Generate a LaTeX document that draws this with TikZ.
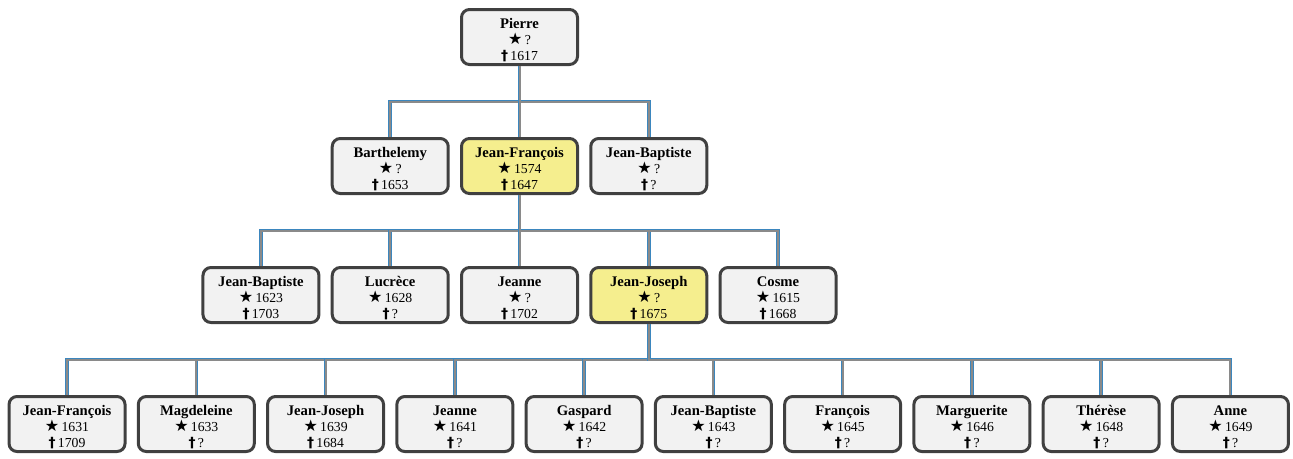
\documentclass[tikz,border=0pt]{standalone}
\usepackage{fontspec}
\setmainfont{Liberation Serif}
\newfontfamily\symfont{DejaVu Sans}
\usetikzlibrary{positioning}

\definecolor{boxborder}{HTML}{404040}
\definecolor{boxfill}{HTML}{F2F2F2}
\definecolor{hlfill}{HTML}{F5EE8E}
\definecolor{linkblue}{HTML}{3B86BE}
\definecolor{linkgray}{HTML}{8A8A8A}

\newcommand{\born}{{\symfont\bfseries\fontsize{12}{12}\selectfont ★}\,}
\newcommand{\died}{{\symfont\bfseries\fontsize{10.5}{12}\selectfont †}\,}
\newcommand{\pname}[1]{{\fontsize{11}{12}\selectfont\bfseries\rule{0pt}{12pt}#1}}

\begin{document}
\begin{tikzpicture}[
        x=0.75pt, y=0.75pt,
        node distance=53.25pt and 7.7pt,
        person/.style={rectangle, draw=boxborder, fill=boxfill, line width=2.25pt, rounded corners=6pt, minimum width=87pt, minimum height=41.25pt, align=center, inner sep=2pt, font=\fontsize{10.3}{12}\selectfont},
        focus/.style={person, fill=hlfill},
        link/.style={draw=linkblue, double=linkgray, line width=0.6pt, double distance=1.5pt}
    ]

    \useasboundingbox (0,0) rectangle (1293,-458);

    % Root
    \node[person] (pierre) at (519.5,-37) {\pname{Pierre}\\\born ?\\\died 1617};

    % Children of Pierre
    \node[focus, below=of pierre] (jf1) {\pname{Jean-François}\\\born 1574\\\died 1647};
    \node[person, left=of jf1] (barth) {\pname{Barthelemy}\\\born ?\\\died 1653};
    \node[person, right=of jf1] (jb1) {\pname{Jean-Baptiste}\\\born ?\\\died ?};

    % Children of Jean-François
    \node[person, below=of jf1] (jeanne1) {\pname{Jeanne}\\\born ?\\\died 1702};
    \node[person, left=of jeanne1] (lucrece) {\pname{Lucrèce}\\\born 1628\\\died ?};
    \node[person, left=of lucrece] (jb2) {\pname{Jean-Baptiste}\\\born 1623\\\died 1703};
    \node[focus, right=of jeanne1] (jj1) {\pname{Jean-Joseph}\\\born ?\\\died 1675};
    \node[person, right=of jj1] (cosme) {\pname{Cosme}\\\born 1615\\\died 1668};

    % Children of Jean-Joseph
    \node[person, below=of jj1, xshift=-48.5pt] (gaspard) {\pname{Gaspard}\\\born 1642\\\died ?};
    \node[person, left=of gaspard] (jeanne2) {\pname{Jeanne}\\\born 1641\\\died ?};
    \node[person, left=of jeanne2] (jj2) {\pname{Jean-Joseph}\\\born 1639\\\died 1684};
    \node[person, left=of jj2] (magd) {\pname{Magdeleine}\\\born 1633\\\died ?};
    \node[person, left=of magd] (jf2) {\pname{Jean-François}\\\born 1631\\\died 1709};
    \node[person, right=of gaspard] (jb3) {\pname{Jean-Baptiste}\\\born 1643\\\died ?};
    \node[person, right=of jb3] (francois) {\pname{François}\\\born 1645\\\died ?};
    \node[person, right=of francois] (marg) {\pname{Marguerite}\\\born 1646\\\died ?};
    \node[person, right=of marg] (therese) {\pname{Thérèse}\\\born 1648\\\died ?};
    \node[person, right=of therese] (anne) {\pname{Anne}\\\born 1649\\\died ?};

    % Pierre -> children
    \draw[link] (pierre.south) -- ++(0,-35.5) -| (barth.north);
    \draw[link] (pierre.south) -- ++(0,-35.5) -| (jf1.north);
    \draw[link] (pierre.south) -- ++(0,-35.5) -| (jb1.north);

    % Jean-François -> children
    \draw[link] (jf1.south) -- ++(0,-35.5) -| (jb2.north);
    \draw[link] (jf1.south) -- ++(0,-35.5) -| (lucrece.north);
    \draw[link] (jf1.south) -- ++(0,-35.5) -| (jeanne1.north);
    \draw[link] (jf1.south) -- ++(0,-35.5) -| (jj1.north);
    \draw[link] (jf1.south) -- ++(0,-35.5) -| (cosme.north);

    % Jean-Joseph -> children
    \draw[link] (jj1.south) -- ++(0,-35.5) -| (jf2.north);
    \draw[link] (jj1.south) -- ++(0,-35.5) -| (magd.north);
    \draw[link] (jj1.south) -- ++(0,-35.5) -| (jj2.north);
    \draw[link] (jj1.south) -- ++(0,-35.5) -| (jeanne2.north);
    \draw[link] (jj1.south) -- ++(0,-35.5) -| (gaspard.north);
    \draw[link] (jj1.south) -- ++(0,-35.5) -| (jb3.north);
    \draw[link] (jj1.south) -- ++(0,-35.5) -| (francois.north);
    \draw[link] (jj1.south) -- ++(0,-35.5) -| (marg.north);
    \draw[link] (jj1.south) -- ++(0,-35.5) -| (therese.north);
    \draw[link] (jj1.south) -- ++(0,-35.5) -| (anne.north);

\end{tikzpicture}
\end{document}
